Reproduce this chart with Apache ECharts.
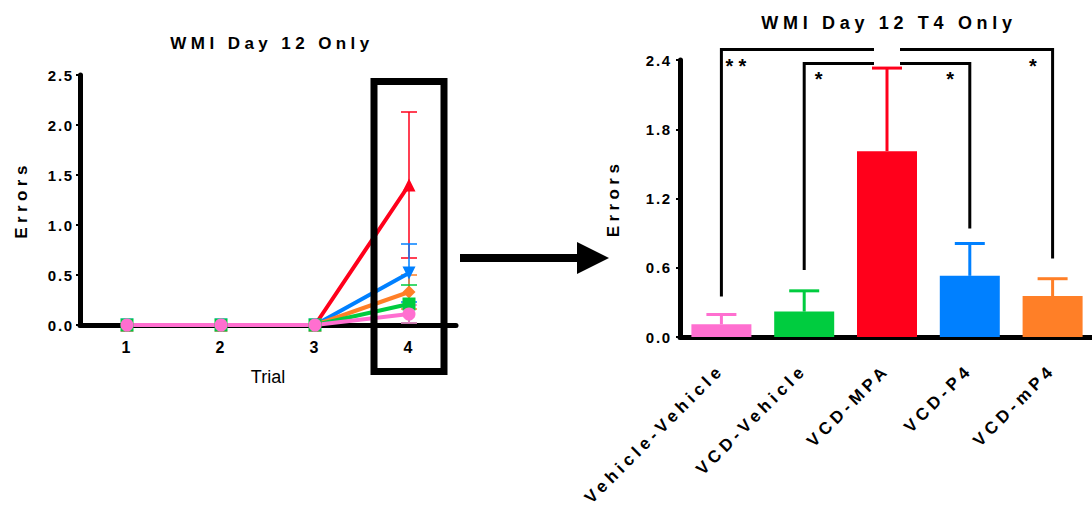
<!DOCTYPE html>
<html>
<head>
<meta charset="utf-8">
<script src="https://cdn.jsdelivr.net/npm/echarts@6/dist/echarts.min.js"></script>
<style>
  html, body { margin: 0; padding: 0; background: #fff; }
  #chart { width: 1092px; height: 508px; }
  /* GraphPad-style spaced lettering */
  #chart text { letter-spacing: 0.26em; }
</style>
</head>
<body>
<div id="chart"></div>
<script>
// left: errors by trial, day 12
const trials = ['1', '2', '3', '4'];
const mpaTrials = [0, 0, 0, 1.4];
const mpaTrialsSem = [0, 0, 0, 0.73];
const p4Trials = [0, 0, 0, 0.52];
const p4TrialsSem = [0, 0, 0, 0.29];
const mp4Trials = [0, 0, 0, 0.33];
const mp4TrialsSem = [0, 0, 0, 0.17];
const vcdVehTrials = [0, 0, 0, 0.21];
const vcdVehTrialsSem = [0, 0, 0, 0.19];
const vehVehTrials = [0, 0, 0, 0.11];
const vehVehTrialsSem = [0, 0, 0, 0.09];

// right: trial 4 only
const groups = ['Vehicle-Vehicle', 'VCD-Vehicle', 'VCD-MPA', 'VCD-P4', 'VCD-mP4'];
const t4Errors = [0.11, 0.22, 1.61, 0.53, 0.355];
const t4Sem = [0.085, 0.18, 0.72, 0.28, 0.15];

// significance brackets against VCD-MPA
const sigFrom = ['Vehicle-Vehicle', 'VCD-Vehicle', 'VCD-P4', 'VCD-mP4'];
const sigTop = [2.49, 2.37, 2.37, 2.49];
const sigLeg = [0.35, 0.58, 0.94, 0.68];
const sigStars = ['**', '*', '*', '*'];

const PINK = '#ff6fd0', GREEN = '#00cc3f', RED = '#ff001b', BLUE = '#0080ff', ORANGE = '#ff7f27';
const groupColors = [PINK, GREEN, RED, BLUE, ORANGE];
const FONT = 'Liberation Sans, Arial, sans-serif';

function trialLine(data, color, symbol, rotate) {
  return {
    type: 'line', xAxisIndex: 0, yAxisIndex: 0, data: data,
    symbol: symbol, symbolSize: 13, symbolRotate: rotate || 0,
    lineStyle: { color: color, width: 4 }, itemStyle: { color: color },
    z: 3
  };
}

function trialErr(data, sem, color) {
  return {
    type: 'custom', xAxisIndex: 0, yAxisIndex: 0, z: 3,
    encode: { x: 0, y: [1, 2] },
    data: data.map((v, i) => [i, v - sem[i], v + sem[i]]),
    renderItem: function (params, api) {
      if (api.value(2) === api.value(1)) return;
      const lo = api.coord([api.value(0), api.value(1)]);
      const hi = api.coord([api.value(0), api.value(2)]);
      const w = 8;
      const st = { stroke: color, lineWidth: 1.5 };
      return {
        type: 'group', children: [
          { type: 'line', shape: { x1: hi[0], y1: hi[1], x2: lo[0], y2: lo[1] }, style: st },
          { type: 'line', shape: { x1: hi[0] - w, y1: hi[1], x2: hi[0] + w, y2: hi[1] }, style: st },
          { type: 'line', shape: { x1: lo[0] - w, y1: lo[1], x2: lo[0] + w, y2: lo[1] }, style: st }
        ]
      };
    }
  };
}

const axisBase = {
  axisLine: { show: true, lineStyle: { color: '#000', width: 5 } },
  splitLine: { show: false },
  nameMoveOverlap: false
};

const chart = echarts.init(document.getElementById('chart'), null, { renderer: 'svg' });

chart.setOption({
  animation: false,
  textStyle: { fontFamily: FONT },
  title: [
    { text: 'WMI Day 12 Only', left: 267, top: 30, textAlign: 'center',
      textStyle: { fontSize: 17, fontWeight: 'bold', color: '#000', fontFamily: FONT } },
    { text: 'WMI Day 12 T4 Only', left: 884, top: 9, textAlign: 'center',
      textStyle: { fontSize: 18, fontWeight: 'bold', color: '#000', fontFamily: FONT } }
  ],
  grid: [
    { left: 80, top: 75, width: 376, height: 250, outerBoundsMode: 'none' },
    { left: 680, top: 60, width: 414, height: 277, outerBoundsMode: 'none' }
  ],
  xAxis: [
    Object.assign({}, axisBase, {
      type: 'category', gridIndex: 0, data: trials,
      axisTick: { alignWithLabel: true, length: 5, lineStyle: { width: 4, color: '#000' } },
      axisLabel: { color: '#000', fontWeight: 'bold', fontSize: 16, margin: 14 },
      name: 'Trial', nameLocation: 'middle', nameGap: 43,
      nameTextStyle: { color: '#000', fontSize: 18, fontFamily: FONT }
    }),
    Object.assign({}, axisBase, {
      type: 'category', gridIndex: 1, data: groups,
      axisTick: { alignWithLabel: true, length: 6, lineStyle: { width: 5, color: '#000' } },
      axisLabel: { color: '#000', fontWeight: 'bold', fontSize: 17, rotate: 45, margin: 30, interval: 0 }
    })
  ],
  yAxis: [
    Object.assign({}, axisBase, {
      type: 'value', gridIndex: 0, min: 0, max: 2.5, interval: 0.5,
      axisTick: { show: true, length: 4, lineStyle: { width: 2, color: '#000' } },
      axisLabel: { color: '#000', fontWeight: 'bold', fontSize: 15, margin: 6,
        formatter: v => v.toFixed(1) },
      name: 'Errors', nameLocation: 'middle', nameGap: 50,
      nameTextStyle: { color: '#000', fontSize: 17, fontWeight: 'bold', fontFamily: FONT }
    }),
    Object.assign({}, axisBase, {
      type: 'value', gridIndex: 1, min: 0, max: 2.4, interval: 0.6,
      axisTick: { show: true, length: 4, lineStyle: { width: 2, color: '#000' } },
      axisLabel: { color: '#000', fontWeight: 'bold', fontSize: 15, margin: 8,
        formatter: v => v.toFixed(1) },
      name: 'Errors', nameLocation: 'middle', nameGap: 58,
      nameTextStyle: { color: '#000', fontSize: 17, fontWeight: 'bold', fontFamily: FONT }
    })
  ],
  series: [
    trialLine(mpaTrials, RED, 'triangle'),
    trialErr(mpaTrials, mpaTrialsSem, RED),
    trialLine(p4Trials, BLUE, 'triangle', 180),
    trialErr(p4Trials, p4TrialsSem, BLUE),
    trialLine(mp4Trials, ORANGE, 'diamond'),
    trialErr(mp4Trials, mp4TrialsSem, ORANGE),
    trialLine(vcdVehTrials, GREEN, 'rect'),
    trialErr(vcdVehTrials, vcdVehTrialsSem, GREEN),
    trialLine(vehVehTrials, PINK, 'circle'),
    trialErr(vehVehTrials, vehVehTrialsSem, PINK),
    {
      type: 'bar', xAxisIndex: 1, yAxisIndex: 1, barWidth: 60,
      data: t4Errors.map((v, i) => ({ value: v, itemStyle: { color: groupColors[i] } }))
    },
    {
      type: 'custom', xAxisIndex: 1, yAxisIndex: 1, z: 1,
      encode: { x: 0, y: [1, 2] },
      data: t4Errors.map((v, i) => [i, v, v + t4Sem[i]]),
      renderItem: function (params, api) {
        const lo = api.coord([api.value(0), api.value(1)]);
        const hi = api.coord([api.value(0), api.value(2)]);
        const st = { stroke: groupColors[params.dataIndex], lineWidth: 3 };
        return {
          type: 'group', children: [
            { type: 'line', shape: { x1: hi[0], y1: hi[1], x2: lo[0], y2: lo[1] }, style: st },
            { type: 'line', shape: { x1: hi[0] - 15, y1: hi[1], x2: hi[0] + 15, y2: hi[1] }, style: st }
          ]
        };
      }
    },
    {
      type: 'custom', xAxisIndex: 1, yAxisIndex: 1, z: 5,
      encode: { x: 0, y: [1, 2] },
      data: sigFrom.map((g, i) => [groups.indexOf(g), sigTop[i], sigLeg[i], i]),
      renderItem: function (params, api) {
        const top = api.coord([api.value(0), api.value(1)]);
        const leg = api.coord([api.value(0), api.value(2)]);
        const mid = api.coord([groups.indexOf('VCD-MPA'), api.value(1)]);
        const dir = mid[0] > top[0] ? 1 : -1;
        return {
          type: 'group', children: [
            { type: 'polyline',
              shape: { points: [leg, top, [mid[0] - dir * 13, top[1]]] },
              style: { stroke: '#000', lineWidth: 3, fill: null } },
            { type: 'text', x: top[0] + dir * 17, y: top[1] + 6,
              style: { text: sigStars[api.value(3)], fill: '#000', fontSize: 20, fontWeight: 'bold',
                fontFamily: FONT, align: 'center', verticalAlign: 'top' } }
          ]
        };
      }
    }
  ]
});

// highlight box around trial 4 and arrow to the T4 panel
const boxX = chart.convertToPixel({ xAxisIndex: 0 }, '4');
chart.setOption({
  graphic: [
    { type: 'rect', shape: { x: boxX - 35, y: 81.5, width: 70, height: 290 },
      style: { fill: null, stroke: '#000', lineWidth: 7 }, z: 10 },
    { type: 'rect', shape: { x: 460, y: 254, width: 120, height: 8 }, style: { fill: '#000' }, z: 10 },
    { type: 'polygon', shape: { points: [[577, 242], [609, 258], [577, 274]] }, style: { fill: '#000' }, z: 10 }
  ]
});

// "Trial" is plain, numbers a bit tighter
chart.on('finished', function () {
  document.querySelectorAll('#chart text').forEach(function (t) {
    const s = t.textContent;
    if (s === 'Trial') t.style.letterSpacing = '0';
    else if (/^[0-9.]+$/.test(s)) t.style.letterSpacing = '0.12em';
  });
});
chart.resize();
</script>
</body>
</html>
